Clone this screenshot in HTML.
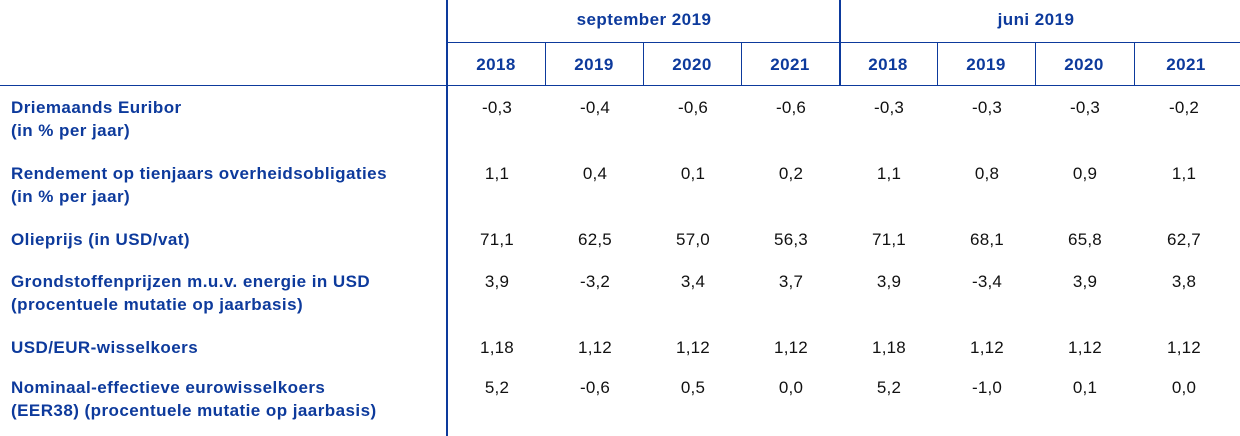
<!DOCTYPE html>
<html><head><style>
body{margin:0;width:1240px;height:436px;background:#fff;position:relative;overflow:hidden;font-family:"Liberation Sans",sans-serif;}
.t{position:absolute;font-size:17px;white-space:nowrap;line-height:20px;letter-spacing:0.45px}
.b{color:#0d3a9c;font-weight:bold}
.v{color:#111;text-align:center;width:98px;letter-spacing:0.2px}
.l{position:absolute;background:#0d3a9c}
</style></head><body>
<div class="l" style="left:446px;top:0;width:2px;height:436px"></div>
<div class="l" style="left:839px;top:0;width:2px;height:86px"></div>
<div class="l" style="left:447px;top:42px;width:793px;height:1px"></div>
<div class="l" style="left:0;top:85px;width:1240px;height:1px"></div>
<div class="l" style="left:545px;top:42px;width:1px;height:44px"></div>
<div class="l" style="left:643px;top:42px;width:1px;height:44px"></div>
<div class="l" style="left:741px;top:42px;width:1px;height:44px"></div>
<div class="l" style="left:937px;top:42px;width:1px;height:44px"></div>
<div class="l" style="left:1035px;top:42px;width:1px;height:44px"></div>
<div class="l" style="left:1134px;top:42px;width:1px;height:44px"></div>
<div class="t b" style="left:448px;width:392px;text-align:center;top:10px">september 2019</div>
<div class="t b" style="left:840px;width:392px;text-align:center;top:10px">juni 2019</div>
<div id="h"></div>
<script>
var xs=[447,545,643,741,839,937,1035,1134];
var yrs=["2018","2019","2020","2021","2018","2019","2020","2021"];
var out="";
xs.forEach(function(x,i){out+='<div class="t b" style="left:'+x+'px;width:'+(i==7?104:98)+'px;text-align:center;top:55px">'+yrs[i]+'</div>';});
var rows=[
[98,"Driemaands Euribor","(in % per jaar)",["-0,3","-0,4","-0,6","-0,6","-0,3","-0,3","-0,3","-0,2"]],
[164,"Rendement op tienjaars overheidsobligaties","(in % per jaar)",["1,1","0,4","0,1","0,2","1,1","0,8","0,9","1,1"]],
[230,"Olieprijs (in USD/vat)","",["71,1","62,5","57,0","56,3","71,1","68,1","65,8","62,7"]],
[272,"Grondstoffenprijzen m.u.v. energie in USD","(procentuele mutatie op jaarbasis)",["3,9","-3,2","3,4","3,7","3,9","-3,4","3,9","3,8"]],
[338,"USD/EUR-wisselkoers","",["1,18","1,12","1,12","1,12","1,18","1,12","1,12","1,12"]],
[378,"Nominaal-effectieve eurowisselkoers","(EER38) (procentuele mutatie op jaarbasis)",["5,2","-0,6","0,5","0,0","5,2","-1,0","0,1","0,0"]]];
rows.forEach(function(r){
out+='<div class="t b" style="left:11px;top:'+r[0]+'px">'+r[1]+'</div>';
if(r[2])out+='<div class="t b" style="left:11px;top:'+(r[0]+23)+'px">'+r[2]+'</div>';
r[3].forEach(function(v,i){out+='<div class="t v" style="left:'+(xs[i]+1)+'px;top:'+r[0]+'px">'+v+'</div>';});
});
document.getElementById("h").innerHTML=out;
</script>
</body></html>
